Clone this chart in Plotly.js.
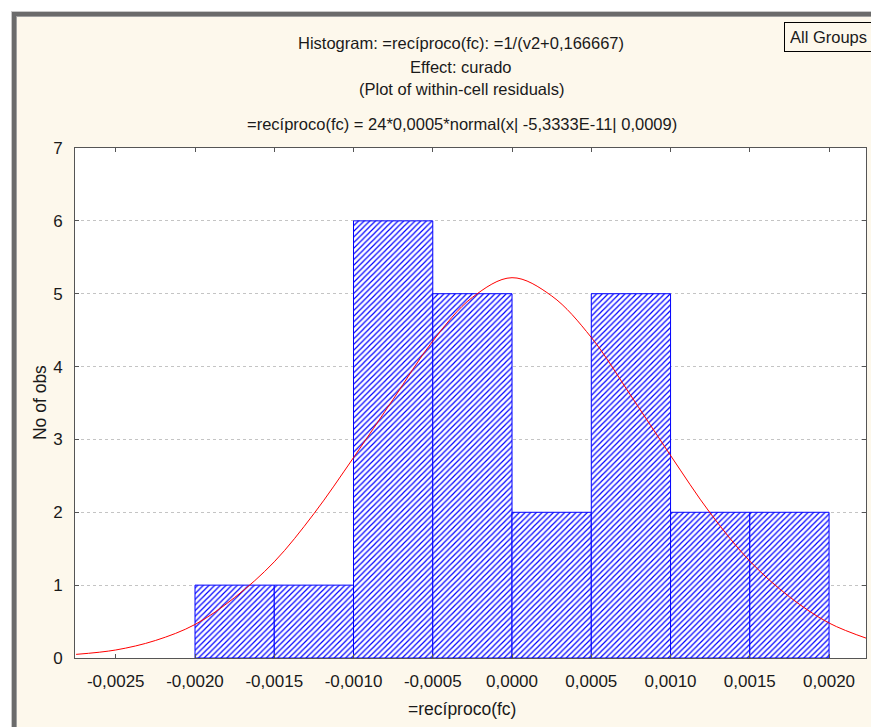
<!DOCTYPE html>
<html><head><meta charset="utf-8">
<script src="https://cdn.plot.ly/plotly-3.0.1.min.js"></script>
<style>
html,body{margin:0;padding:0;background:#ffffff;width:871px;height:727px;overflow:hidden;position:relative}
.f{position:absolute;width:1000px;height:1000px;}
#f1{left:11px;top:11px;border-top:1px solid #c8c8c8;border-left:1px solid #c8c8c8;}
#f2{left:12px;top:12px;border-top:4px solid #6b6b6b;border-left:4px solid #6b6b6b;}
#f3{left:16px;top:16px;border-top:1px solid #a0a0a0;border-left:1px solid #a0a0a0;background:#FDF8EC;}
#chart{position:absolute;left:0;top:0;width:871px;height:727px;}
</style>
</head><body>
<div class="f" id="f1"></div><div class="f" id="f2"></div><div class="f" id="f3"></div>
<div id="chart"></div>
<script>
// Histogram bins (left edges) and observed counts
const binLeft = [-0.0020, -0.0015, -0.0010, -0.0005, 0.0000, 0.0005, 0.0010, 0.0015];
const binWidth = 0.0005;
const counts = [1, 1, 6, 5, 2, 5, 2, 2];

// Fitted normal curve
const curveX = [-0.00275, -0.0025, -0.00225, -0.0020, -0.00175, -0.0015, -0.00125, -0.0010, -0.00075, -0.0005, -0.00025, 0.0,
                0.00025, 0.0005, 0.00075, 0.0010, 0.00125, 0.0015, 0.00175, 0.0020, 0.00225];
const curveY = [0.05, 0.11, 0.24, 0.46, 0.83, 1.32, 1.98, 2.75, 3.55, 4.35, 4.95, 5.22,
                4.97, 4.40, 3.60, 2.78, 1.99, 1.33, 0.84, 0.48, 0.26];

// Tick labels
const xTickVals = [-0.0025, -0.0020, -0.0015, -0.0010, -0.0005, 0.0000, 0.0005, 0.0010, 0.0015, 0.0020];
const xTickText = ['-0,0025', '-0,0020', '-0,0015', '-0,0010', '-0,0005', '0,0000', '0,0005', '0,0010', '0,0015', '0,0020'];
const yTickVals = [0, 1, 2, 3, 4, 5, 6, 7];

const titleLines = ['Histogram: =recíproco(fc): =1/(v2+0,166667)', 'Effect: curado', '(Plot of within-cell residuals)'];
const formulaText = '=recíproco(fc) = 24*0,0005*normal(x| -5,3333E-11| 0,0009)';
const xTitle = '=recíproco(fc)';
const yTitle = 'No of obs';
const legendText = 'All Groups';

const FONT = 'Liberation Sans, Arial, sans-serif';
const TXT = '#1a1a1a';

const bars = {
  type: 'bar',
  x: binLeft.map(v => v + binWidth / 2),
  y: counts,
  width: binLeft.map(() => binWidth),
  marker: {
    color: '#ffffff',
    line: {color: '#0000ff', width: 1},
    pattern: {shape: '/', fgcolor: '#0000ff', bgcolor: '#ffffff', size: 4, solidity: 0.3, fillmode: 'replace'}
  },
  hoverinfo: 'skip',
  showlegend: false
};

const curve = {
  type: 'scatter', mode: 'lines',
  x: curveX, y: curveY,
  line: {color: '#ff0000', width: 1, shape: 'spline', smoothing: 1},
  hoverinfo: 'skip', showlegend: false
};

const titleY = [1.2059, 1.1588, 1.1157];
const annotations = titleLines.map((t, i) => ({
  text: t, xref: 'paper', yref: 'paper', x: 0.488, y: titleY[i],
  xanchor: 'center', yanchor: 'middle', showarrow: false,
  font: {family: FONT, size: 16.5, color: TXT}
}));
annotations.push({
  text: formulaText, xref: 'paper', yref: 'paper', x: 0.489, y: 1.0471,
  xanchor: 'center', yanchor: 'middle', showarrow: false,
  font: {family: FONT, size: 16.5, color: TXT}
});
annotations.push({
  text: xTitle, xref: 'paper', yref: 'paper', x: 0.489, y: -0.100,
  xanchor: 'center', yanchor: 'middle', showarrow: false,
  font: {family: FONT, size: 17.5, color: TXT}
});
annotations.push({
  text: yTitle, xref: 'paper', yref: 'paper', x: -0.0442, y: 0.5,
  xanchor: 'center', yanchor: 'middle', showarrow: false, textangle: -90,
  font: {family: FONT, size: 17.5, color: TXT}
});
annotations.push({
  text: legendText, xref: 'paper', yref: 'paper', x: 0.8963, y: 1.2167,
  xanchor: 'left', yanchor: 'middle', showarrow: false, align: 'left',
  width: 92, borderpad: 5,
  bordercolor: '#000000', borderwidth: 1, bgcolor: '#FDF8EC',
  font: {family: FONT, size: 16.5, color: TXT}
});

const layout = {
  width: 871, height: 727,
  margin: {l: 75, r: 5, t: 148, b: 69},
  paper_bgcolor: 'rgba(0,0,0,0)',
  plot_bgcolor: '#ffffff',
  font: {family: FONT, color: TXT},
  bargap: 0,
  xaxis: {
    range: [-0.002757, 0.002233],
    tickmode: 'array', tickvals: xTickVals, ticktext: xTickText,
    ticks: 'inside', ticklen: 4, tickcolor: '#555555',
    ticklabelstandoff: 8,
    showline: true, linecolor: '#555555', linewidth: 1, mirror: 'ticks',
    showgrid: false, zeroline: false,
    tickfont: {family: FONT, size: 17, color: TXT}
  },
  yaxis: {
    range: [0, 7],
    tickmode: 'array', tickvals: yTickVals,
    ticks: 'inside', ticklen: 4, tickcolor: '#555555',
    ticklabelstandoff: 8,
    showline: true, linecolor: '#555555', linewidth: 1, mirror: 'ticks',
    showgrid: true, gridcolor: '#c4c4c4', griddash: 'dot', gridwidth: 1,
    zeroline: false,
    tickfont: {family: FONT, size: 17, color: TXT}
  },
  annotations: annotations
};

Plotly.newPlot('chart', [bars, curve], layout, {displayModeBar: false, staticPlot: true});
</script>
</body></html>
